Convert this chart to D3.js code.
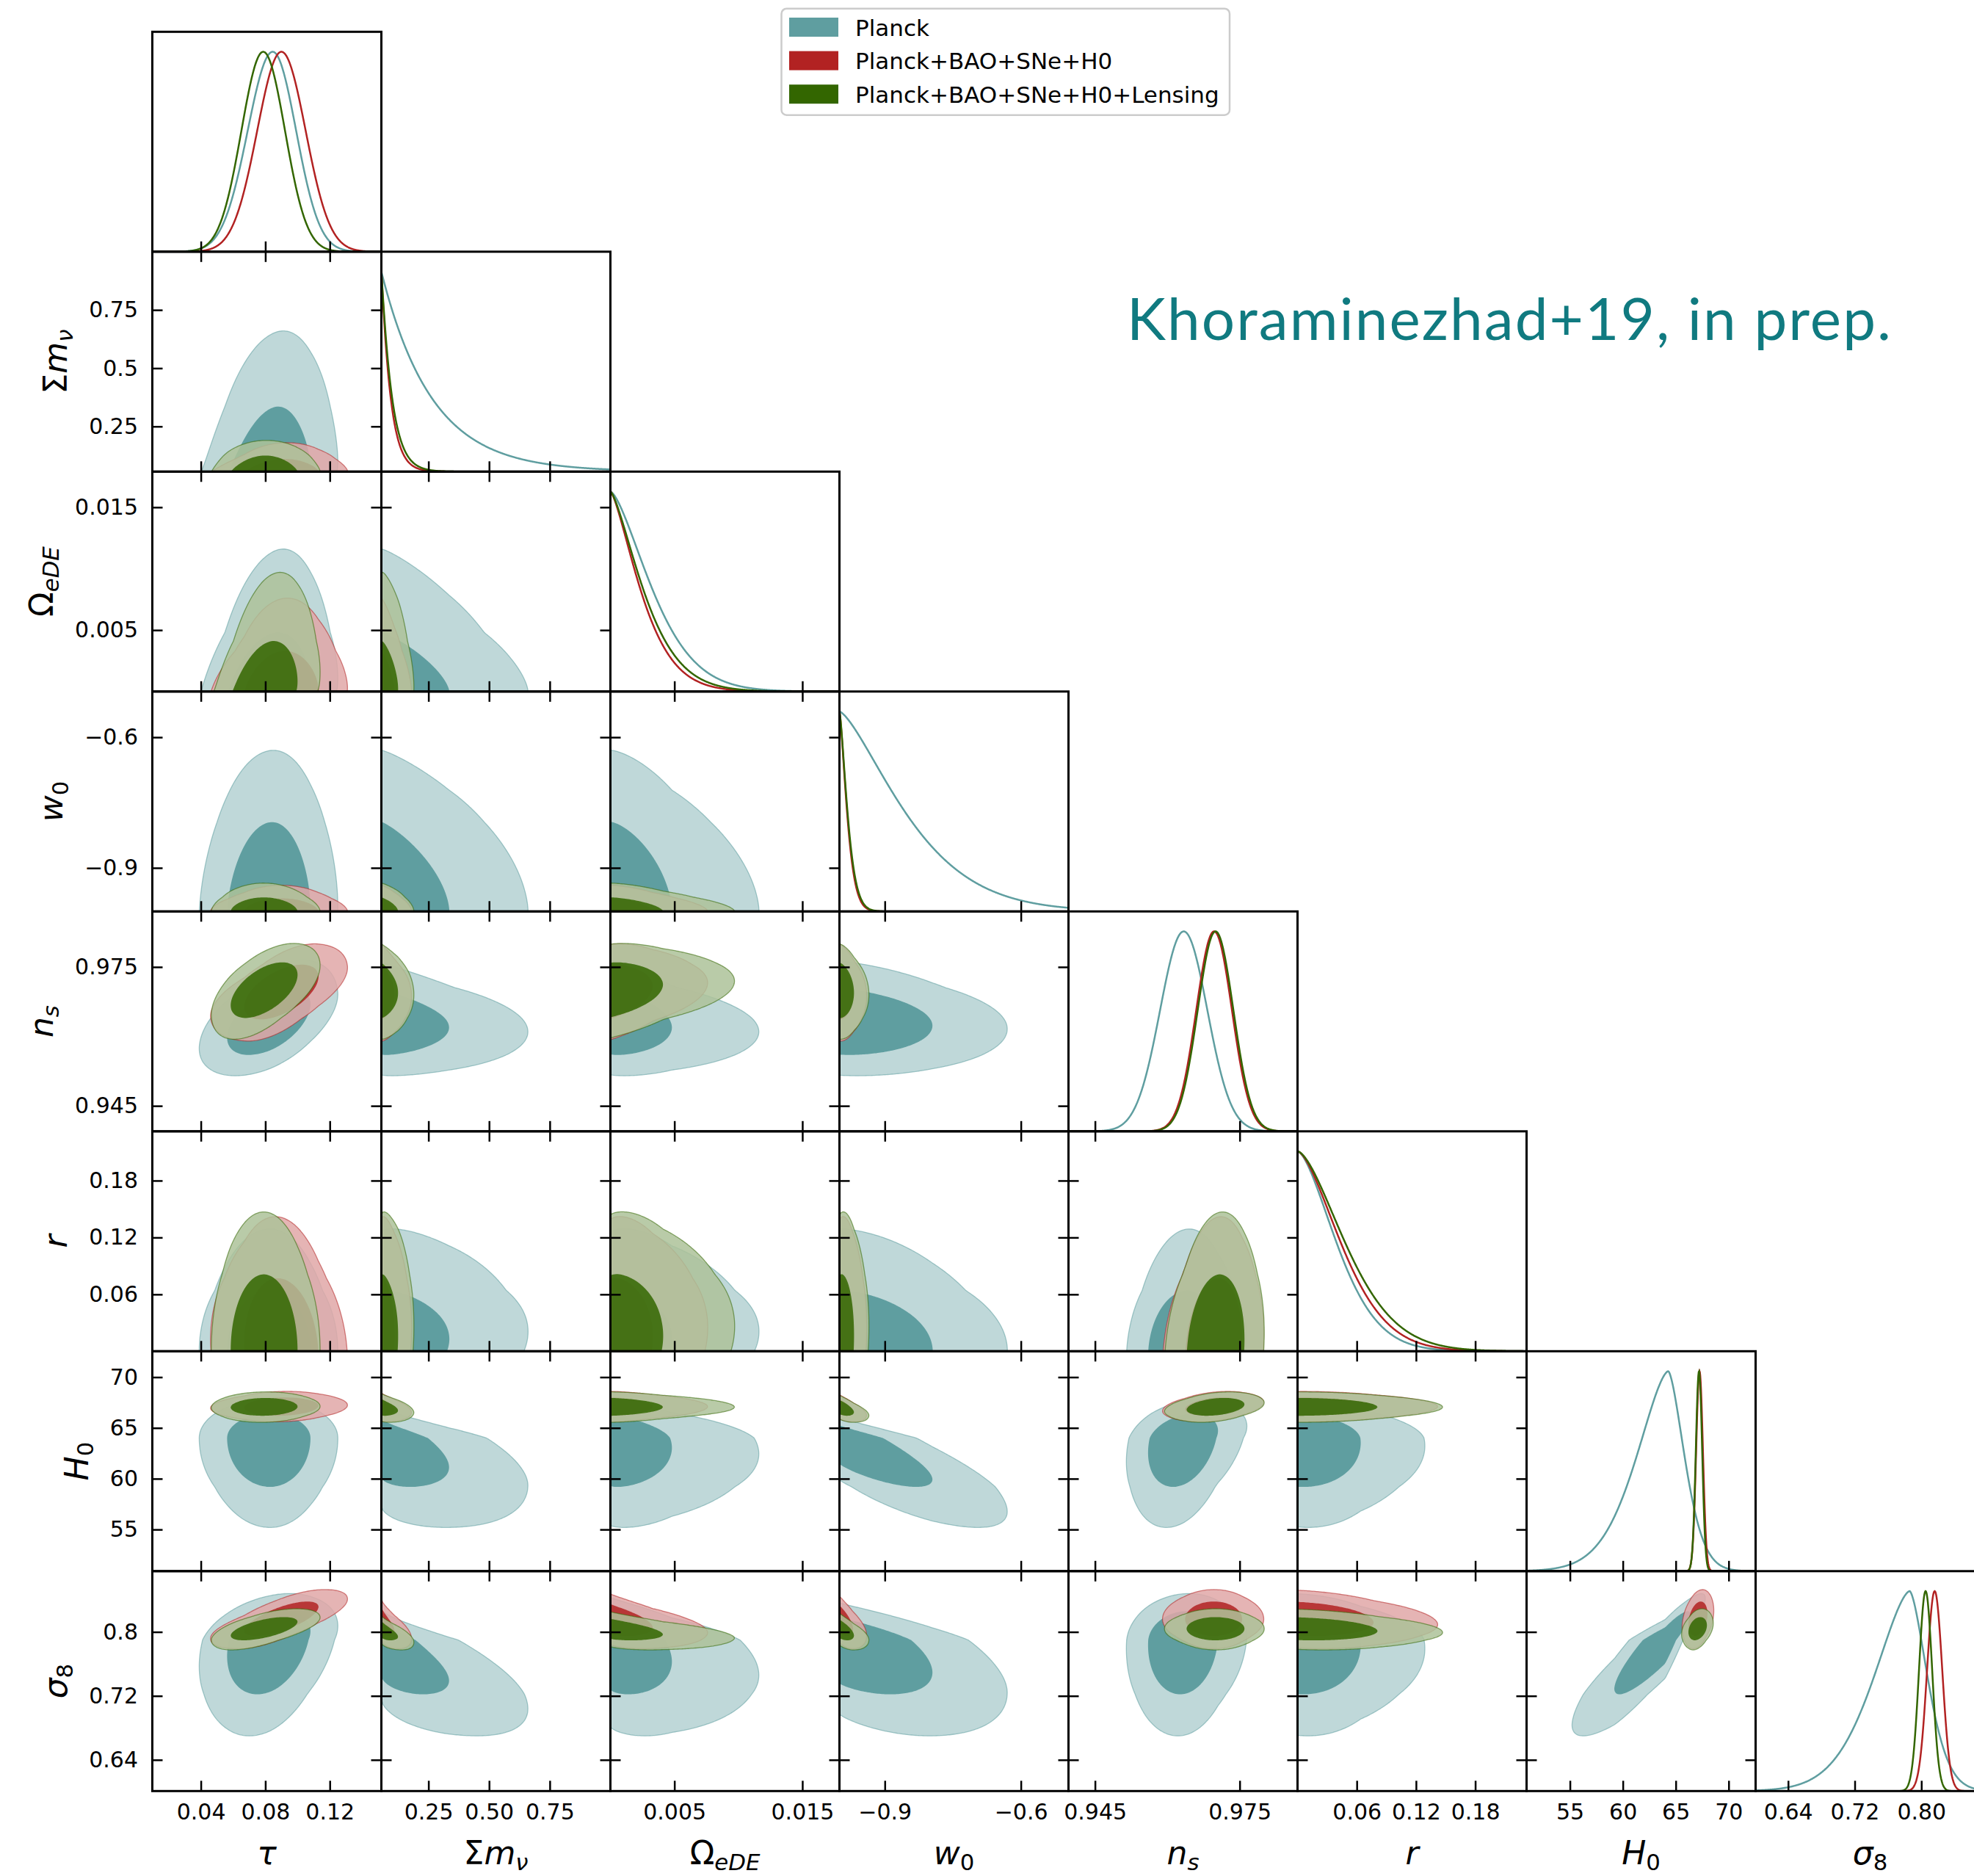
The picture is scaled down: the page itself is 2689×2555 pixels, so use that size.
<!DOCTYPE html>
<html>
<head>
<meta charset="utf-8">
<script src="https://cdn.jsdelivr.net/npm/d3@7"></script>
<style>
  body { margin: 0; background: #fff; }
  text { font-family: "DejaVu Sans", sans-serif; }
</style>
</head>
<body>
<svg id="chart" width="2689" height="2555"></svg>
<script>
// ---- parameters (triangle order) ----
const params = ["tau", "mnu", "omegaEDE", "w0", "ns", "r", "H0", "sigma8"];
const domains = [[0.0099, 0.152], [0.056, 1.0], [0, 0.0179], [-1.0, -0.495],
                 [0.9395, 0.987], [0, 0.232], [50.9, 72.55], [0.601, 0.876]];
const priorLower = [null, 0.056, 0, -1, null, 0, null, null];
const tickValues = [[0.04, 0.08, 0.12], [0.25, 0.5, 0.75], [0.005, 0.015], [-0.9, -0.6],
                    [0.945, 0.975], [0.06, 0.12, 0.18], [55, 60, 65, 70], [0.64, 0.72, 0.8]];
const xTickLabels = [["0.04", "0.08", "0.12"], ["0.25", "0.50", "0.75"], ["0.005", "0.015"], ["\u22120.9", "\u22120.6"],
                     ["0.945", "0.975"], ["0.06", "0.12", "0.18"], ["55", "60", "65", "70"], ["0.64", "0.72", "0.80"]];
const yTickLabels = [[], ["0.25", "0.5", "0.75"], ["0.005", "0.015"], ["\u22120.9", "\u22120.6"],
                     ["0.945", "0.975"], ["0.06", "0.12", "0.18"], ["55", "60", "65", "70"], ["0.64", "0.72", "0.8"]];
const axisLabels = [
  [{t: "τ", i: true}],
  [{t: "Σ"}, {t: "m", i: true}, {t: "ν", i: true, sub: true}],
  [{t: "Ω"}, {t: "eDE", i: true, sub: true}],
  [{t: "w", i: true}, {t: "0", sub: true}],
  [{t: "n", i: true}, {t: "s", i: true, sub: true}],
  [{t: "r", i: true}],
  [{t: "H", i: true}, {t: "0", sub: true}],
  [{t: "σ", i: true}, {t: "8", sub: true}]
];

// ---- 1D marginals: peak, left/right width, tail exponent ----
const planckPeak  = [0.0846, 0.056, 0, -1, 0.9634, 0, 64.29, 0.786];
const planckSdLo  = [0.0155, 0.104, 0.0027, 0.114, 0.0049, 0.0349, 2.8, 0.040];
const planckSdHi  = [0.0145, 0.104, 0.0027, 0.114, 0.0049, 0.0349, 1.45, 0.020];
const planckShape = [2, 1, 1.5, 1.4, 2, 1.6, 1.6, 1.6];

const baoPeak  = [0.0900, 0.056, 0, -1, 0.9697, 0, 67.25, 0.816];
const baoSdLo  = [0.0150, 0.020, 0.0019, 0.0132, 0.0037, 0.0387, 0.32, 0.0091];
const baoSdHi  = [0.0150, 0.020, 0.0019, 0.0132, 0.0037, 0.0387, 0.32, 0.0091];
const baoShape = [2, 1.05, 1.4, 1.4, 2, 1.6, 2, 2];

const lensPeak  = [0.0787, 0.056, 0, -1, 0.9700, 0, 67.2, 0.8051];
const lensSdLo  = [0.0135, 0.023, 0.00208, 0.014, 0.0037, 0.0426, 0.30, 0.0079];
const lensSdHi  = [0.0135, 0.023, 0.00208, 0.014, 0.0037, 0.0426, 0.30, 0.0079];
const lensShape = [2, 1.05, 1.4, 1.4, 2, 1.6, 2, 2];

// ---- 2D contour extents: [lo95, lo68, centre, hi68, hi95] (null = prior edge) ----
const planckLimits = [
  [0.039, 0.0563, 0.083, 0.108, 0.125],
  [null, null, 0.056, 0.335, 0.66],
  [null, null, 0, 0.0048, 0.0116],
  [null, null, -1, -0.795, -0.63],
  [0.9515, 0.9560, 0.9634, 0.9705, 0.9765],
  [null, null, 0, 0.064, 0.129],
  [55.2, 59.2, 64.0, 66.4, 67.8],
  [0.670, 0.722, 0.790, 0.826, 0.848]
];
const baoLimits = [
  [0.046, 0.067, 0.090, 0.113, 0.131],
  [null, null, 0.056, 0.11, 0.18],
  [null, null, 0, 0.0033, 0.0076],
  [null, null, -1, -0.97, -0.94],
  [0.959, 0.9637, 0.9697, 0.9755, 0.980],
  [null, null, 0, 0.077, 0.142],
  [65.6, 66.2, 67.1, 68.0, 68.6],
  [0.779, 0.795, 0.816, 0.838, 0.853]
];
const lensLimits = [
  [0.0465, 0.0585, 0.079, 0.100, 0.114],
  [null, null, 0.056, 0.125, 0.19],
  [null, null, 0, 0.0041, 0.0097],
  [null, null, -1, -0.968, -0.935],
  [0.9594, 0.964, 0.970, 0.976, 0.9801],
  [null, null, 0, 0.081, 0.147],
  [65.55, 66.2, 67.05, 67.95, 68.55],
  [0.7775, 0.7895, 0.804, 0.8185, 0.829]
];
const coreShape = [1, 0.6, 0.75, 0.85, 1, 1, 1, 1];

// correlations, row j lists pairs with params 0..j-1
const planckRho = [[], [0.2], [0.2, 0.0], [0.05, 0.0, 0.0], [0.5, -0.2, -0.2, -0.15],
  [0.0, 0.2, 0.2, 0.0, 0.1], [0.0, -0.6, -0.2, -0.85, 0.3, -0.1], [0.3, -0.75, -0.4, -0.6, 0.1, -0.1, 0.9]];
const baoRho = [[], [0.1], [0.1, 0.0], [0, 0.0, 0.0], [0.55, -0.1, 0.2, -0.1],
  [-0.1, 0.2, 0.2, 0.2, 0.15], [0.1, -0.4, 0, -0.6, 0.3, 0], [0.7, -0.7, -0.5, -0.6, 0, -0.2, 0.3]];
const lensRho = [[], [0.05], [0.3, 0.1], [0, 0.0, 0.0], [0.55, -0.1, 0.2, -0.1],
  [0, 0.2, 0.2, 0.2, 0.15], [0.05, -0.4, 0, -0.6, 0.3, 0], [0.6, -0.7, -0.5, -0.6, 0, -0.2, 0.3]];

const datasets = [
  {name: "Planck", color: "#5f9ea0", alpha: 1, peak: planckPeak, sdLo: planckSdLo, sdHi: planckSdHi, shape: planckShape, limits: planckLimits, rho: planckRho},
  {name: "Planck+BAO+SNe+H0", color: "#b22222", alpha: 0.85, peak: baoPeak, sdLo: baoSdLo, sdHi: baoSdHi, shape: baoShape, limits: baoLimits, rho: baoRho},
  {name: "Planck+BAO+SNe+H0+Lensing", color: "#336600", alpha: 0.85, peak: lensPeak, sdLo: lensSdLo, sdHi: lensSdHi, shape: lensShape, limits: lensLimits, rho: lensRho}
];

// ---- layout ----
const W = 312, H = 299.5, left0 = 207.5, top0 = 43.3, n = params.length;
const tickLen = 14;
const svg = d3.select("#chart");
svg.append("rect").attr("width", 2689).attr("height", 2555).attr("fill", "#fff");

const xScales = domains.map(d => d3.scaleLinear().domain(d).range([0, W]));
const yScales = domains.map(d => d3.scaleLinear().domain(d).range([H, 0]));
const y1D = d3.scaleLinear().domain([0, 1.1]).range([H, 0]);

const K1 = Math.sqrt(2.279), K2 = Math.sqrt(5.991);

function latent(lim, p, x) {
  const [lo95, lo68, mode, hi68, hi95] = lim;
  if (x >= mode) {
    const d = x - mode, a = hi68 - mode;
    if (d <= a) return K1 * Math.pow(d / a, p);
    return K1 + (K2 - K1) * (d - a) / (hi95 - hi68);
  }
  if (lo68 === null) return 0;
  const d = mode - x, a = mode - lo68;
  if (d <= a) return -K1 * Math.pow(d / a, p);
  return -K1 - (K2 - K1) * (d - a) / (lo68 - lo95);
}

// 68/95% levels of a correlated gaussian cut to one quadrant (two prior edges)
const levelCache = new Map();
function quadrantLevels(rho) {
  if (levelCache.has(rho)) return levelCache.get(rho);
  const h = 0.02, m = 400, dq = 0.01, nb = 6000;
  const bins = new Float64Array(nb + 1);
  const s = 1 - rho * rho;
  let total = 0;
  for (let a = 0; a < m; a++) {
    const u = (a + 0.5) * h;
    for (let b = 0; b < m; b++) {
      const v = (b + 0.5) * h;
      const q = (u * u - 2 * rho * u * v + v * v) / s;
      const w = Math.exp(-q / 2);
      total += w;
      bins[Math.min(nb, Math.floor(q / dq))] += w;
    }
  }
  const out = [];
  let acc = 0, k = 0;
  for (const target of [0.68, 0.95]) {
    while (k < nb && acc + bins[k] < target * total) { acc += bins[k]; k++; }
    out.push((k + 1) * dq);
  }
  levelCache.set(rho, out);
  return out;
}

function density1D(ds, k, x) {
  const pk = ds.peak[k];
  const s = x < pk ? ds.sdLo[k] : ds.sdHi[k];
  return Math.exp(-0.5 * Math.pow(Math.abs(x - pk) / s, ds.shape[k]));
}

const defs = svg.append("defs");
defs.append("clipPath").attr("id", "panelClip").append("rect").attr("width", W).attr("height", H);

function styleAxis(g) {
  g.select(".domain").remove();
  g.selectAll(".tick line").attr("stroke", "#000").attr("stroke-width", 2.5);
  g.selectAll(".tick text").attr("font-family", "DejaVu Sans").attr("font-size", 30).attr("fill", "#000");
  g.attr("font-size", null).attr("font-family", null);
}

function addLabel(sel, parts, size) {
  const t = sel.append("text").attr("font-size", size).attr("fill", "#000");
  parts.forEach(p => {
    const ts = t.append("tspan").text(p.t).attr("font-style", p.i ? "italic" : "normal");
    if (p.sub) ts.attr("font-size", size * 0.7).attr("dy", size * 0.17);
  });
  return t;
}

const step = 2;
for (let r = 0; r < n; r++) {
  for (let c = 0; c <= r; c++) {
    const g = svg.append("g").attr("transform", `translate(${left0 + c * W},${top0 + r * H})`);
    const xs = xScales[c];
    const body = g.append("g").attr("clip-path", "url(#panelClip)");

    if (r === c) {
      const xsD = d3.range(0, 601).map(t => domains[c][0] + t / 600 * (domains[c][1] - domains[c][0]));
      datasets.forEach(ds => {
        const line = d3.line().x(d => xs(d)).y(d => y1D(density1D(ds, c, d)));
        body.append("path").attr("d", line(xsD)).attr("fill", "none")
          .attr("stroke", ds.color).attr("stroke-width", 2.5);
      });
    } else {
      const ys = yScales[r];
      const nx = Math.ceil(W / step) + 5, ny = Math.ceil(H / step) + 5;
      datasets.forEach(ds => {
        const rho = ds.rho[r][c];
        const limX = ds.limits[c], limY = ds.limits[r];
        const vals = new Float64Array(nx * ny);
        const us = d3.range(nx).map(gx => latent(limX, coreShape[c], xs.invert((gx - 2) * step)));
        const vs = d3.range(ny).map(gy => latent(limY, coreShape[r], ys.invert((gy - 2) * step)));
        const s = 1 - rho * rho;
        for (let gy = 0; gy < ny; gy++) {
          for (let gx = 0; gx < nx; gx++) {
            const u = us[gx], v = vs[gy];
            vals[gy * nx + gx] = -(u * u - 2 * rho * u * v + v * v) / s;
          }
        }
        const lv = (priorLower[c] !== null && priorLower[r] !== null) ? quadrantLevels(rho) : [2.279, 5.991];
        const conts = d3.contours().size([nx, ny]).thresholds([-lv[1], -lv[0]])(vals);
        const proj = d3.geoTransform({
          point(x, y) { this.stream.point((x - 0.5 - 2) * step, (y - 0.5 - 2) * step); }
        });
        const path = d3.geoPath(proj);
        const light = d3.interpolateRgb(ds.color, "#ffffff")(0.6);
        const grp = body.append("g");
        grp.append("path").attr("d", path(conts[0])).attr("fill", light).attr("fill-opacity", ds.alpha).attr("fill-rule", "evenodd");
        grp.append("path").attr("d", path(conts[1])).attr("fill", ds.color).attr("fill-opacity", ds.alpha).attr("fill-rule", "evenodd");
        grp.append("path").attr("d", path(conts[0])).attr("fill", "none").attr("stroke", ds.color)
          .attr("stroke-opacity", 0.55).attr("stroke-width", 1.3);
      });
    }

    // ticks, pointing inwards
    const bottom = g.append("g").attr("transform", `translate(0,${H})`)
      .call(d3.axisBottom(xs).tickValues(tickValues[c]).tickSize(-tickLen).tickSizeOuter(0).tickPadding(17)
        .tickFormat(r === n - 1 ? (d, i) => xTickLabels[c][i] : ""));
    styleAxis(bottom);
    if (r !== c) {
      const ys = yScales[r];
      const top = g.append("g").call(d3.axisTop(xs).tickValues(tickValues[c]).tickSize(-tickLen).tickSizeOuter(0).tickFormat(""));
      styleAxis(top);
      const leftAx = g.append("g").call(d3.axisLeft(ys).tickValues(tickValues[r]).tickSize(-tickLen).tickSizeOuter(0).tickPadding(19.5)
        .tickFormat(c === 0 ? (d, i) => yTickLabels[r][i] : ""));
      styleAxis(leftAx);
      const rightAx = g.append("g").attr("transform", `translate(${W},0)`)
        .call(d3.axisRight(ys).tickValues(tickValues[r]).tickSize(-tickLen).tickSizeOuter(0).tickFormat(""));
      styleAxis(rightAx);
      if (c === 0) {
        let minLeft = Infinity;
        leftAx.selectAll(".tick text").each(function () {
          minLeft = Math.min(minLeft, -19.5 - this.getComputedTextLength());
        });
        addLabel(g.append("g").attr("transform", `translate(${minLeft - 30},${H / 2}) rotate(-90)`), axisLabels[r], 44)
          .attr("text-anchor", "middle");
      }
    }
    g.append("rect").attr("width", W).attr("height", H).attr("fill", "none")
      .attr("stroke", "#000").attr("stroke-width", 3);

    if (r === n - 1) {
      addLabel(g.append("g").attr("transform", `translate(${W / 2},${H + 100})`), axisLabels[c], 44)
        .attr("text-anchor", "middle");
    }
  }
}

// ---- legend ----
const leg = svg.append("g");
leg.append("rect").attr("x", 1064.5).attr("y", 11.7).attr("width", 610.5).attr("height", 145).attr("rx", 7)
  .attr("fill", "#fff").attr("stroke", "#cccccc").attr("stroke-width", 2.5);
datasets.forEach((ds, i) => {
  const y = 24 + i * 45.6;
  leg.append("rect").attr("x", 1075).attr("y", y).attr("width", 67).attr("height", 26).attr("fill", ds.color);
  leg.append("text").attr("x", 1165).attr("y", y + 24.5).attr("font-size", 31).attr("fill", "#000").text(ds.name);
});

// ---- annotation ----
svg.append("text").attr("x", 1535).attr("y", 463).attr("font-size", 80)
  .attr("fill", "#107a80").attr("textLength", 1041).attr("lengthAdjust", "spacing")
  .style("font-family", "Lato, 'Open Sans', sans-serif")
  .text("Khoraminezhad+19, in prep.");
</script>
</body>
</html>
